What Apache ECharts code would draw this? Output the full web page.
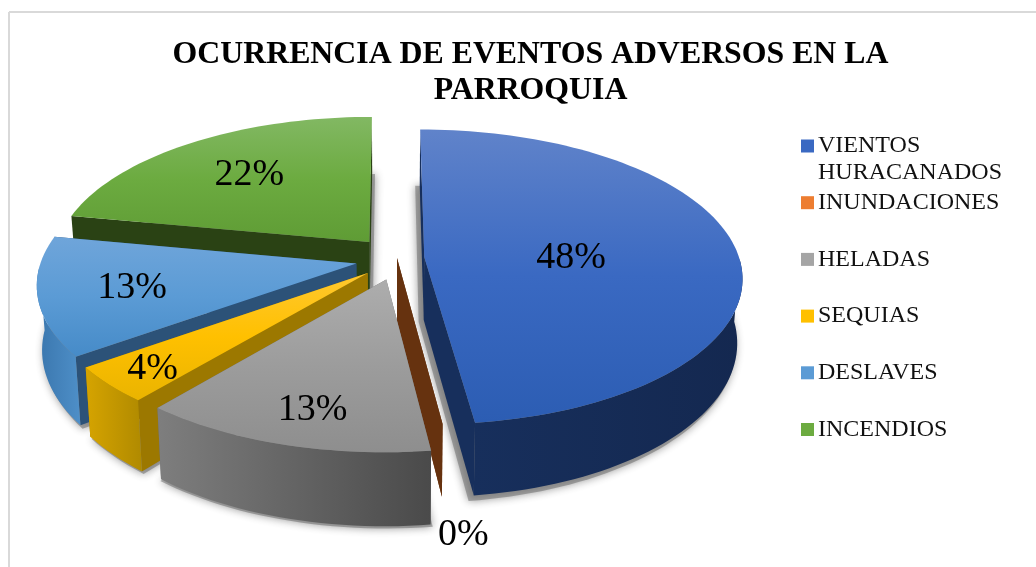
<!DOCTYPE html>
<html>
<head>
<meta charset="utf-8">
<title>Ocurrencia de eventos adversos</title>
<style>
  html, body { margin: 0; padding: 0; background: #fff; }
  #chart { width: 1036px; height: 567px; }
</style>
</head>
<body>
<div id="chart"></div>
<script src="https://cdn.jsdelivr.net/npm/echarts@6/dist/echarts.min.js"></script>
<script>
// datos del grafico
const titleLines = ['OCURRENCIA DE EVENTOS ADVERSOS EN LA', 'PARROQUIA']
const categories = ['VIENTOS HURACANADOS', 'INUNDACIONES', 'HELADAS', 'SEQUIAS', 'DESLAVES', 'INCENDIOS']
const values = [48, 0, 13, 4, 13, 22]

// colores: top = cara superior, edge = pared exterior, side = pared radial
const topColors = [
  ['#6083ca', '#3a69c2', '#2c5db3'],
  ['#f08a4a', '#ed7d31', '#e06c1e'],
  ['#adadad', '#9c9c9c', '#8e8e8e'],
  ['#ffc830', '#ffc000', '#eab400'],
  ['#6fa5da', '#5b9bd5', '#468bc8'],
  ['#82b863', '#6cab40', '#5f9c35']
]
const edgeColors = [
  ['#172f5c', '#142850'],
  ['#66320f', '#66320f'],
  ['#7e7e7e', '#4a4a4a'],
  ['#d6a400', '#b08a00'],
  ['#3a76ad', '#4e8fc8'],
  ['#4a7a2c', '#4a7a2c']
]
const sideColors = ['#172f5c', '#66320f', '#6a6a6a', '#9c7800', '#2c5278', '#2a4214']
const legendColors = ['#3a69c2', '#ed7d31', '#a5a5a5', '#ffc000', '#5b9bd5', '#6cab40']

// orden de pintado, de atras hacia adelante
const drawOrder = [5, 0, 1, 4, 3, 2]
// separacion de cada porcion y radio de su etiqueta (1 = borde)
const explode = [0.109, 0, 0.109, 0.109, 0.109, 0.109]
const nudge = [[0, 0], [7, 0], [6, 6], [3, 4], [0, 2], [1, -4]]
const labelRadius = [0.47, 1.52, 0.78, 0.82, 0.71, 0.63]
const labelShift = [[0, 5], [-9, 2], [5, 6], [-7, 6], [0, 1], [-4, -2]]

// geometria de la torta en perspectiva
const cx = 390, cy = 258, rx = 315, ry = 145, persp = 0.135, depth = 63, shrink = 0.015

const total = values.reduce((a, b) => a + b, 0)
const startPct = values.map((v, i) => values.slice(0, i).reduce((a, b) => a + b, 0))

function project(u, v, down, off) {
  const s = 1 / (1 - persp * v)
  return [cx + off[0] + rx * u * s * (1 - shrink * down), cy + off[1] + ry * v * s + down * depth * s]
}

function grad(stops, horizontal) {
  const list = stops.map((c, i) => ({ offset: i / (stops.length - 1), color: c }))
  return new echarts.graphic.LinearGradient(0, 0, horizontal ? 1 : 0, horizontal ? 0 : 1, list)
}

function renderSlice(idx, api) {
  const val = api.value(0)
  const a0 = startPct[idx] / total * Math.PI * 2
  const a1 = a0 + val / total * Math.PI * 2
  const mid = (a0 + a1) / 2
  const ex = explode[idx] * Math.sin(mid)
  const ev = -explode[idx] * Math.cos(mid)
  const off = nudge[idx]

  const rim = (down, frontOnly) => {
    const pts = []
    const steps = Math.max(1, Math.round((a1 - a0) / 0.03))
    for (let i = 0; i <= steps; i++) {
      const t = a0 + (a1 - a0) * i / steps
      if (frontOnly && -Math.cos(t) < 0) continue
      pts.push(project(ex + Math.sin(t), ev - Math.cos(t), down, off))
    }
    return pts
  }
  const apex = down => project(ex, ev, down, off)
  const edgePoint = (t, down) => project(ex + Math.sin(t), ev - Math.cos(t), down, off)

  const wall = t => ({
    type: 'polygon',
    shape: { points: [apex(0), edgePoint(t, 0), edgePoint(t, 1), apex(1)] },
    style: { fill: sideColors[idx] }
  })

  const children = []
  if (val > 0) {
    // sombra difusa, un poco menos separada que la porcion
    const sx = ex * 0.85, sv = ev * 0.85
    const shadow = [project(sx, sv, 1.03, off)]
    const steps = Math.round((a1 - a0) / 0.03)
    for (let i = 0; i <= steps; i++) {
      const t = a0 + (a1 - a0) * i / steps
      shadow.push(project(sx + Math.sin(t) * 1.012, sv - Math.cos(t) * 1.012, 1.04, off))
    }
    children.push({
      type: 'polygon',
      shape: { points: shadow },
      style: { fill: 'rgba(110,110,110,0.55)', shadowBlur: 8, shadowColor: 'rgba(50,50,50,0.9)' }
    })
  }
  // paredes radiales, primero la de atras
  if (-Math.cos(a0) < -Math.cos(a1)) {
    children.push(wall(a0), wall(a1))
  } else {
    children.push(wall(a1), wall(a0))
  }
  if (val > 0) {
    const front = rim(0, true)
    if (front.length > 1) {
      children.push({
        type: 'polygon',
        shape: { points: front.concat(rim(1, true).reverse()) },
        style: { fill: grad(edgeColors[idx], true) }
      })
    }
    children.push({
      type: 'polygon',
      shape: { points: [apex(0)].concat(rim(0, false)) },
      style: { fill: grad(topColors[idx], false) }
    })
  }
  const lp = project(ex + labelRadius[idx] * Math.sin(mid), ev - labelRadius[idx] * Math.cos(mid), 0, off)
  children.push({
    type: 'text',
    z2: 10,
    style: {
      x: lp[0] + labelShift[idx][0],
      y: lp[1] + labelShift[idx][1],
      text: val + '%',
      align: 'center',
      verticalAlign: 'middle',
      fontFamily: 'Liberation Serif',
      fontSize: 38,
      fill: '#000'
    }
  })
  return { type: 'group', children: children }
}

const chart = echarts.init(document.getElementById('chart'))
chart.setOption({
  animation: false,
  backgroundColor: '#fff',
  title: {
    text: titleLines.join('\n'),
    left: 525.5,
    top: 32,
    textAlign: 'center',
    textStyle: {
      fontFamily: 'Liberation Serif',
      fontWeight: 'bold',
      fontSize: 31.8,
      lineHeight: 36,
      color: '#000'
    }
  },
  legend: {
    orient: 'vertical',
    left: 796,
    top: 129,
    itemWidth: 13,
    itemHeight: 13,
    itemGap: 32.7,
    icon: 'rect',
    formatter: name => name.split(' ')[0],
    textStyle: {
      fontFamily: 'Liberation Serif',
      fontSize: 24,
      color: '#111',
      padding: [0, 0, 0, -1]
    },
    data: categories
  },
  graphic: [
    { type: 'line', shape: { x1: 9, y1: 12, x2: 9, y2: 567 }, style: { stroke: '#d9d9d9', lineWidth: 2 } },
    { type: 'line', shape: { x1: 9, y1: 12, x2: 1036, y2: 12 }, style: { stroke: '#d9d9d9', lineWidth: 2 } },
    {
      type: 'text',
      left: 818,
      top: 161,
      style: {
        text: categories[0].split(' ')[1],
        fontFamily: 'Liberation Serif',
        fontSize: 24,
        fill: '#111'
      }
    }
  ],
  series: drawOrder.map(idx => ({
    type: 'custom',
    name: categories[idx],
    coordinateSystem: 'none',
    silent: true,
    itemStyle: { color: legendColors[idx] },
    data: [[values[idx]]],
    renderItem: (params, api) => renderSlice(idx, api)
  }))
})
window.onresize = () => {
  chart.resize()
}
</script>
</body>
</html>
